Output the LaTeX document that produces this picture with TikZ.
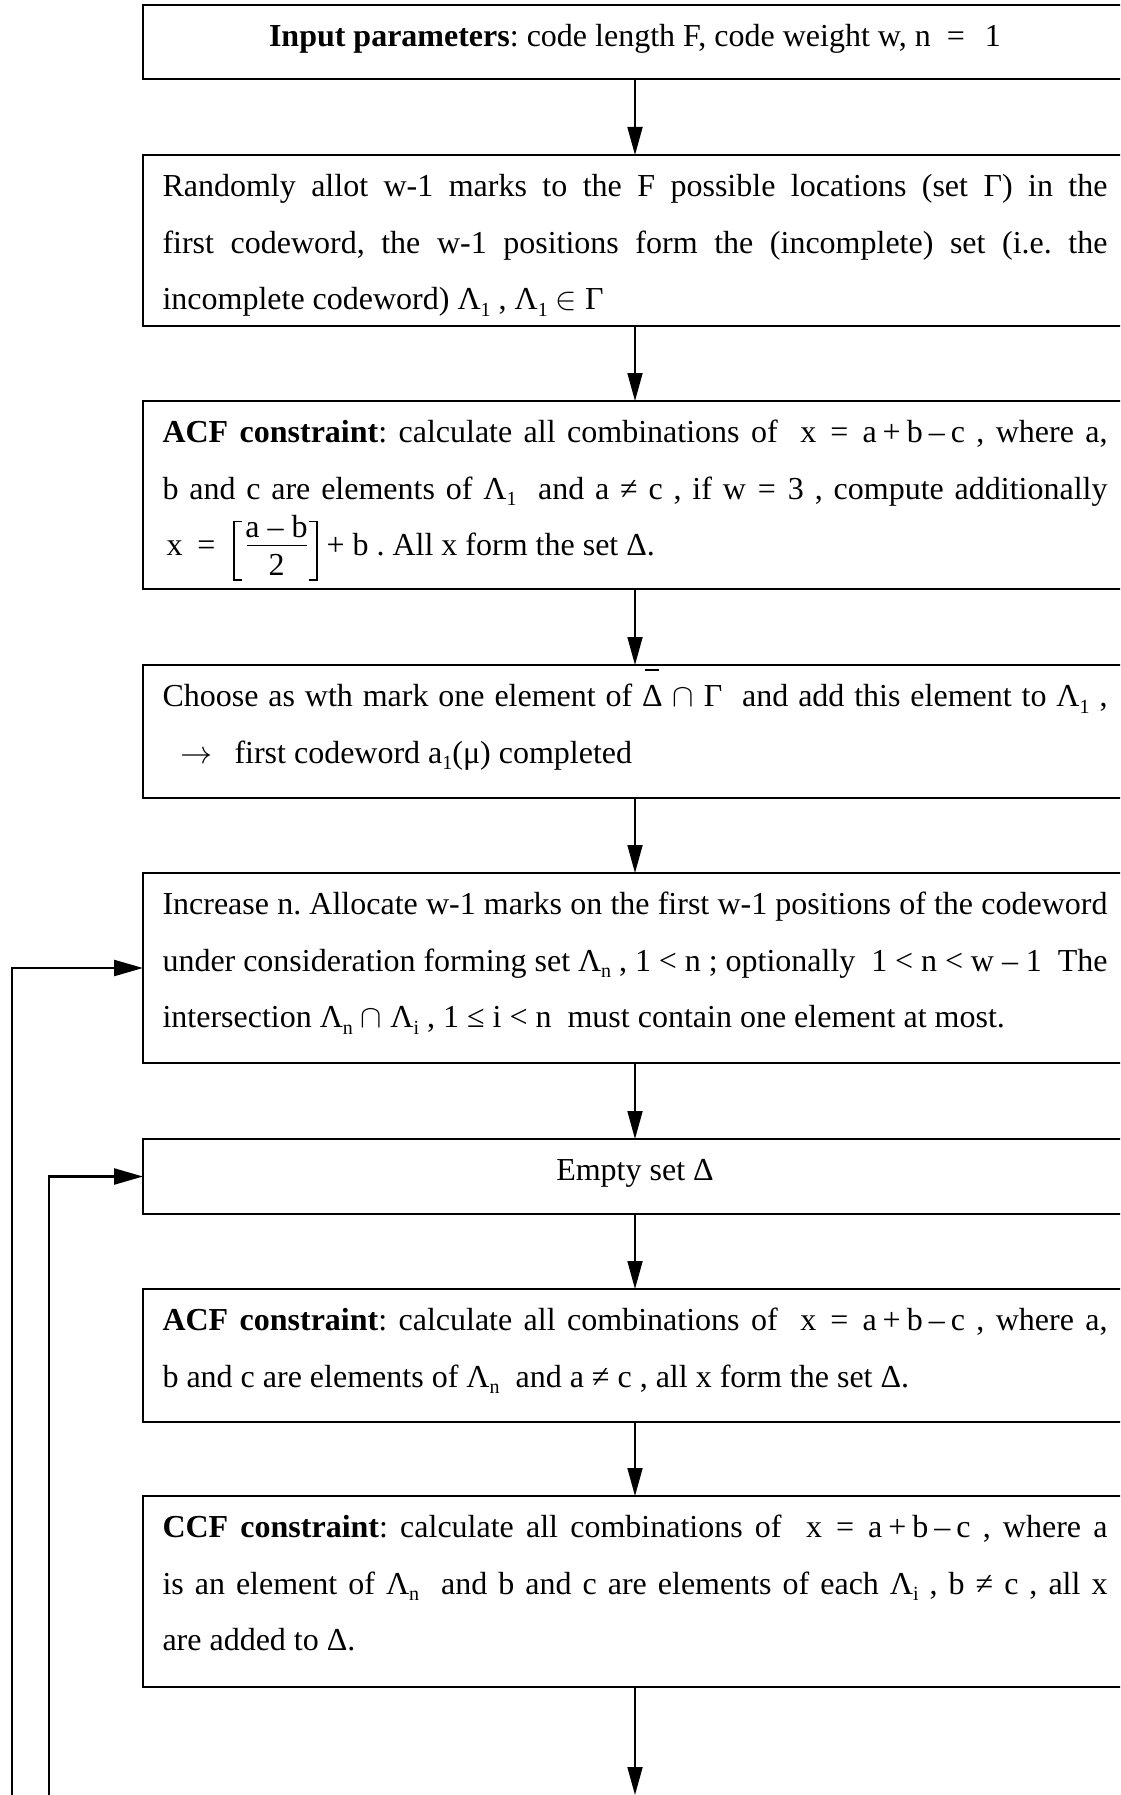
\documentclass[tikz,border=0pt]{standalone}
\usepackage{fix-cm}
\usepackage{fontspec}
\setmainfont{Liberation Serif}
\usetikzlibrary{arrows.meta}
\newcommand{\sbs}[1]{\raisebox{-6.5pt}{\fontsize{20}{20}\selectfont #1}}
\newcommand{\jl}[1]{\makebox[945pt][s]{#1}}
\newcommand{\fst}{\rule{0pt}{41.5pt}}
\newcommand{\btext}[2]{\parbox[c][#1][t]{945pt}{\fontsize{32}{56.7}\selectfont\frenchspacing #2}}
\newcommand{\dbar}{\rlap{\hspace{3pt}\raisebox{36pt}{\rule{14pt}{1.5pt}}}Δ}
\newcommand{\lbrk}{\rlap{\rule[-25pt]{2pt}{60pt}}\rlap{\rule[33.5pt]{9pt}{1.5pt}}\rule[-25pt]{9pt}{1.5pt}}
\newcommand{\rbrk}{\rlap{\hspace{7pt}\rule[-25pt]{2pt}{60pt}}\rlap{\rule[33.5pt]{9pt}{1.5pt}}\rule[-25pt]{9pt}{1.5pt}}
\newcommand{\frc}{\lbrk\hspace{5pt}\makebox[60pt][l]{\rlap{\raisebox{18pt}{\makebox[60pt]{a – b}}}\rlap{\rule[9.5pt]{60pt}{1pt}}\raisebox{-20pt}{\makebox[60pt]{2}}}\hspace{2pt}\rbrk}
\newcommand{\xabc}{x\hspace{14pt}=\hspace{14pt}a\hspace{6pt}+\hspace{6pt}b\hspace{6pt}–\hspace{6pt}c}
\tikzset{
  box/.style={draw, line width=2.5pt, inner xsep=19.5pt, inner ysep=0pt, outer sep=0pt, anchor=north},
  conn/.style={line width=1.8pt, -{Triangle[length=28pt,width=15pt]}},
  back/.style={line width=2.4pt, -{Triangle[length=29pt,width=16pt]}}
}
\begin{document}
\begin{tikzpicture}[x=1pt,y=-1pt]
\useasboundingbox (0,0) rectangle (1120,1795);
\clip (0,0) rectangle (1120,1795);

\node[box] (b1) at (635,5) {\btext{74pt}{\centering\fst\textbf{Input parameters}: code length F, code weight w, n\hspace{16pt}=\hspace{20pt}1\par}};

\node[box] (b2) at (635,155) {\btext{171pt}{%
\jl{\fst Randomly allot w-1 marks to the F possible locations (set Γ) in the}\par
\jl{first codeword, the w-1 positions form the (incomplete) set (i.e. the}\par
incomplete codeword) Λ\sbs{1} , Λ\sbs{1} $\in$ Γ\par}};

\node[box] (b3) at (635,401) {\btext{188pt}{%
\jl{\fst\textbf{ACF constraint}: calculate all combinations of \ \xabc\ , where a,}\par
\jl{b and c are elements of Λ\sbs{1} \ and a ≠ c , if w\hspace{12pt}=\hspace{12pt}3 , compute additionally}\par
\hspace*{4pt}x\hspace{15pt}=\hspace{17pt}\frc\hspace{9pt}+ b . All x form the set Δ.\par}};

\node[box] (b4) at (635,665) {\btext{133pt}{%
\jl{\fst Choose as wth mark one element of \dbar\ $\cap$ Γ \ and add this element to Λ\sbs{1} ,}\par
\hspace*{18pt}$\rightarrow$\hspace{22pt}first codeword a\sbs{1}(μ) completed\par}};

\node[box] (b5) at (635,873) {\btext{190pt}{%
\jl{\fst Increase n. Allocate w-1 marks on the first w-1 positions of the codeword}\par
\jl{under consideration forming set Λ\sbs{n} , 1 < n ; optionally \ 1 < n < w – 1 \ The}\par
intersection Λ\sbs{n} $\cap$ Λ\sbs{i} , 1 ≤ i < n \ must contain one element at most.\par}};

\node[box] (b6) at (635,1139) {\btext{75pt}{\centering\fst Empty set Δ\par}};

\node[box] (b7) at (635,1289) {\btext{133pt}{%
\jl{\fst\textbf{ACF constraint}: calculate all combinations of \ \xabc\ , where a,}\par
b and c are elements of Λ\sbs{n} \ and a ≠ c , all x form the set Δ.\par}};

\node[box] (b8) at (635,1496) {\btext{191pt}{%
\jl{\fst\textbf{CCF constraint}: calculate all combinations of \ \xabc\ , where a}\par
\jl{is an element of Λ\sbs{n} \ and b and c are elements of each Λ\sbs{i} , b ≠ c , all x}\par
are added to Δ.\par}};

\coordinate (end) at (635,1795);
\coordinate (l1) at (12,1800);
\coordinate (l2) at (49,1800);

\draw[conn] (b1) -- (b2);
\draw[conn] (b2) -- (b3);
\draw[conn] (b3) -- (b4);
\draw[conn] (b4) -- (b5);
\draw[conn] (b5) -- (b6);
\draw[conn] (b6) -- (b7);
\draw[conn] (b7) -- (b8);
\draw[conn] (b8) -- (end);
\draw[back] (l1) |- (b5.west);
\draw[back] (l2) |- (b6.west);
\end{tikzpicture}
\end{document}
